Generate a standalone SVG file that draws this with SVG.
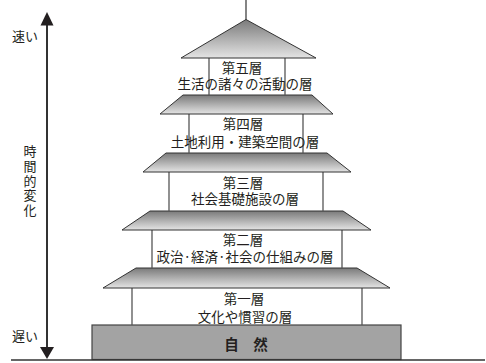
<svg xmlns="http://www.w3.org/2000/svg" width="486" height="363" viewBox="0 0 486 363">
<style>
.roof{fill:url(#rg);stroke:#333;stroke-width:1}
.wall{stroke:#555;stroke-width:1.3;fill:none}
.t{font-family:"Noto Sans CJK JP","Noto Sans",sans-serif;font-size:13.5px;fill:#231f20;text-anchor:middle}
.side{font-family:"Noto Sans CJK JP","Noto Sans",sans-serif;font-size:13px;fill:#231f20}
</style>
<defs>
<linearGradient id="rg" x1="0" y1="0" x2="0" y2="1">
<stop offset="0" stop-color="#7a7a7a"/>
<stop offset="1" stop-color="#e4e4e4"/>
</linearGradient>
</defs>
<rect width="486" height="363" fill="#fff"/>
<g id="axis">
<line x1="47" y1="24" x2="47" y2="348" stroke="#333" stroke-width="2"/>
<polygon points="47,12 40.5,25.5 53.5,25.5" fill="#231f20"/>
<polygon points="47,359 40,347 54,347" fill="#231f20"/>
<text class="side" x="12" y="41">速い</text>
<text class="side" x="12" y="341">遅い</text>
<text class="side" x="30" y="144.5" style="writing-mode:vertical-rl;letter-spacing:1.8px">時間的変化</text>
</g>
<g id="nature">
<rect x="92" y="325" width="309" height="34.5" fill="#a3a3a3" stroke="#444" stroke-width="1.2"/>
<text class="t" x="246" y="350" style="font-size:14.5px;font-weight:bold">自　然</text>
</g>
<g id="layer1">
<line class="wall" x1="132" y1="288" x2="132" y2="325"/>
<line class="wall" x1="362" y1="288" x2="362" y2="325"/>
<polygon class="roof" points="136,268 357,268 390,288 103,288"/>
<text class="t"><tspan x="244" y="304">第一層</tspan><tspan x="245" y="322">文化や慣習の層</tspan></text>
</g>
<g id="layer2">
<line class="wall" x1="152" y1="230" x2="152" y2="268"/>
<line class="wall" x1="342" y1="230" x2="342" y2="268"/>
<polygon class="roof" points="150,211 343,211 371,230 122,230"/>
<text class="t"><tspan x="243" y="245">第二層</tspan><tspan x="245" y="262">政治·経済·社会の仕組みの層</tspan></text>
</g>
<g id="layer3">
<line class="wall" x1="169" y1="172" x2="169" y2="211"/>
<line class="wall" x1="323" y1="172" x2="323" y2="211"/>
<polygon class="roof" points="166,153 327,153 351,172 143,172"/>
<text class="t"><tspan x="243" y="188">第三層</tspan><tspan x="245" y="204">社会基礎施設の層</tspan></text>
</g>
<g id="layer4">
<line class="wall" x1="189" y1="114" x2="189" y2="153"/>
<line class="wall" x1="303" y1="114" x2="303" y2="153"/>
<polygon class="roof" points="183,95 312,95 333,114 160,114"/>
<text class="t"><tspan x="243" y="129">第四層</tspan><tspan x="245" y="147">土地利用・建築空間の層</tspan></text>
</g>
<g id="layer5">
<line class="wall" x1="209" y1="58" x2="209" y2="95"/>
<line class="wall" x1="285" y1="58" x2="285" y2="95"/>
<line x1="246" y1="0" x2="246" y2="20" stroke="#333" stroke-width="1.2"/>
<polygon class="roof" points="246,19.5 316,58 181,58"/>
<text class="t"><tspan x="242" y="73">第五層</tspan><tspan x="245" y="89">生活の諸々の活動の層</tspan></text>
</g>
<g id="connectors">
<line x1="11" y1="360" x2="485" y2="360" stroke="#333" stroke-width="1.6"/>
</g>
</svg>
